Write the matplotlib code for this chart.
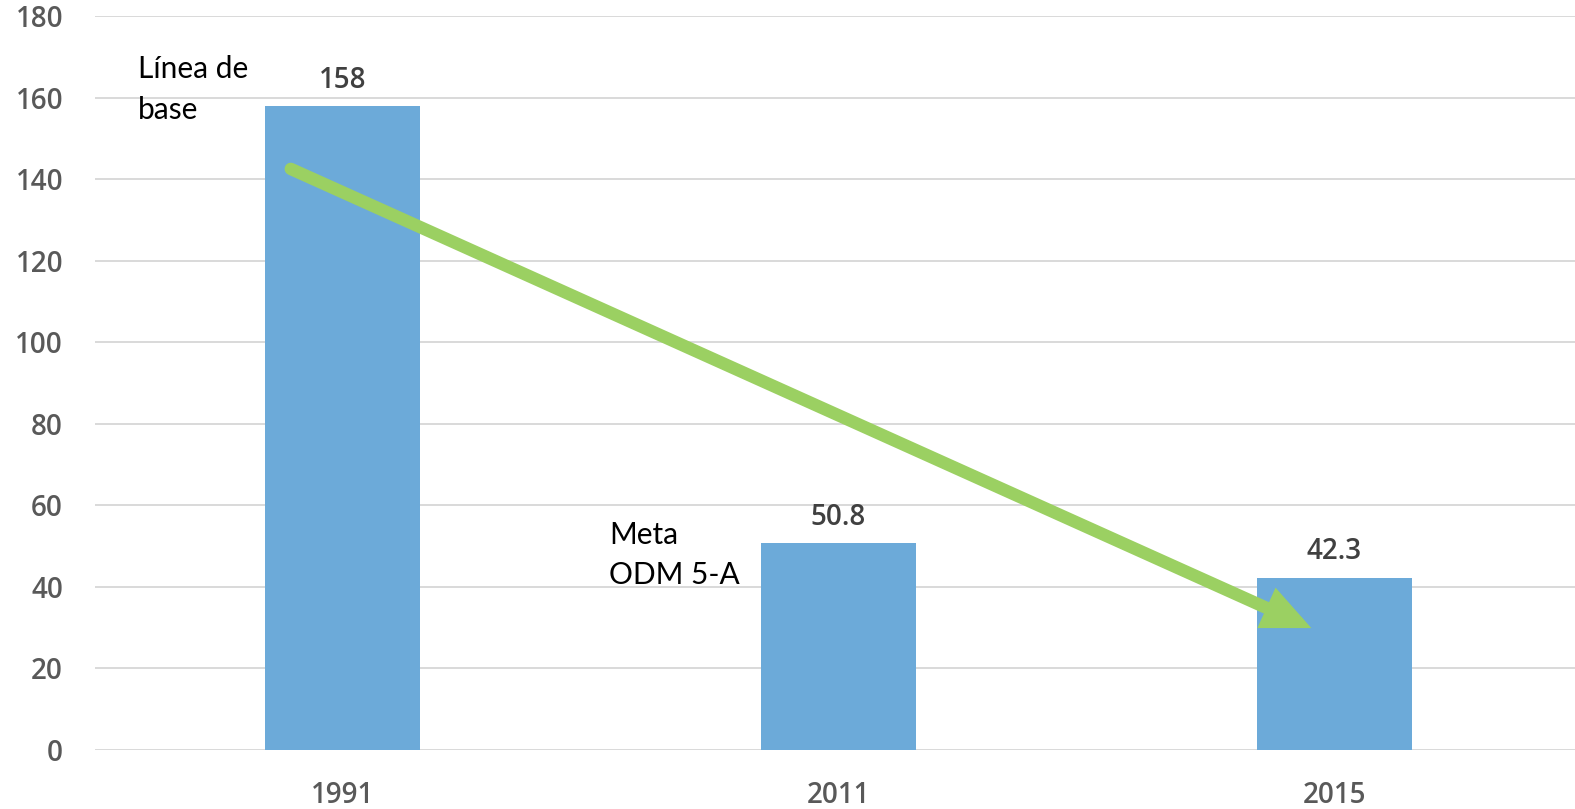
import numpy as np
import matplotlib
matplotlib.use('Agg')
import matplotlib.pyplot as plt

years = ['1991', '2011', '2015']
values = [158, 50.8, 42.3]
value_labels = ['158', '50.8', '42.3']
notes = ['Línea de\nbase', 'Meta\nODM 5-A']

bar_color = '#6CAAD9'
arrow_color = '#9BD062'
grid_color = '#D9D9D9'
tick_color = '#595959'

plt.rcParams['font.family'] = ['Open Sans', 'DejaVu Sans']

fig = plt.figure(figsize=(15.75, 8.09), dpi=100)
ax = fig.add_axes([95 / 1575, 59 / 809, (1582 - 95) / 1575, (793 - 59) / 809])

x = np.arange(len(years))
bars = ax.bar(x, values, width=0.313, color=bar_color, zorder=3)
ax.bar_label(bars, labels=value_labels, padding=8, fontsize=20,
             color='#404040', fontweight='semibold')

ax.set_xlim(-0.5, 2.5)
ax.set_ylim(0, 180)
ax.set_yticks(np.arange(0, 181, 20))
ax.set_xticks(x)
ax.set_xticklabels(years)
ax.tick_params(axis='both', length=0, labelsize=20, labelcolor=tick_color)
ax.tick_params(axis='y', pad=23)
ax.tick_params(axis='x', pad=22)
for lab in ax.get_xticklabels() + ax.get_yticklabels():
    lab.set_fontweight('semibold')
ax.grid(axis='y', color=grid_color, linewidth=1.4, zorder=0)
for s in ax.spines.values():
    s.set_visible(False)

# notes next to the bars
ax.text(-0.414, 170.4, notes[0], ha='left', va='top', fontsize=21.5,
        family=['Lato', 'DejaVu Sans'], color='black', linespacing=1.55)
ax.text(0.537, 56.2, notes[1], ha='left', va='top', fontsize=21.5,
        family=['Lato', 'DejaVu Sans'], color='black', linespacing=1.55)

# trend arrow
ax.annotate('', xy=(1.954, 29.9), xytext=(-0.105, 142.5),
            arrowprops=dict(arrowstyle='-|>,head_length=1.0,head_width=0.45',
                            lw=9, color=arrow_color, mutation_scale=20,
                            shrinkA=0, shrinkB=0, joinstyle='miter'),
            zorder=4)

fig.savefig('out.png', dpi=100)
